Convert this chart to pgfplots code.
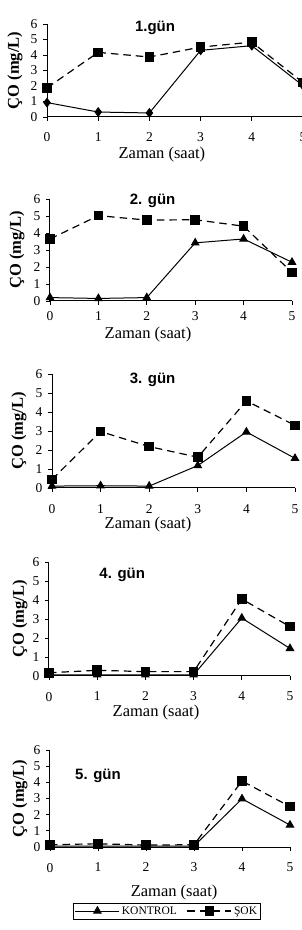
\documentclass[border=0pt]{standalone}
\usepackage{pgfplots}
\pgfplotsset{compat=1.18}
\usepackage{fontspec}
\setmainfont{Liberation Serif}
\newfontfamily\arial{Liberation Sans}

\pgfplotsset{
 panel/.style={
  scale only axis, anchor=south west, clip=false,
  xmin=0,xmax=5,ymin=0,ymax=6,
  axis lines*=left,
  axis line style={line width=1pt},
  xtick={0,...,5}, ytick={0,...,6},
  tick align=outside, major tick length=4pt,
  tick style={line width=0.9pt,black},
  /pgf/number format/assume math mode=true,
  ticklabel style={font=\fontsize{13.5}{15}\selectfont},
  xlabel={Zaman (saat)}, ylabel={\textbf{ÇO (mg/L)}},
  label style={font=\fontsize{16.5}{18}\selectfont},
  yticklabel style={xshift=-2pt},
 },
 kontrol/.style={black, line width=1pt, solid, mark=triangle*, mark size=4.2pt, mark options={solid}},
 kontrold/.style={black, line width=1pt, solid, mark=diamond*, mark size=4.2pt, mark options={solid}},
 sok/.style={black, line width=1.2pt, dash pattern=on 7.5pt off 5pt, mark=square*, mark size=4.2pt, mark options={solid}},
}
\tikzset{ttl/.style={font=\arial\bfseries\fontsize{15}{17}\selectfont}}

\begin{document}
\begin{tikzpicture}[x=1pt,y=1pt]
\useasboundingbox (0,0) rectangle (302,930);

% Panel 1
\begin{axis}[panel, at={(47pt,813pt)}, width=256pt, height=93pt,
  xticklabel style={yshift=-8pt},
  xlabel style={at={(axis description cs:0.449,0)}, anchor=center, yshift=-38pt},
  ylabel style={at={(axis description cs:0,0.5)}, anchor=center, yshift=32pt}]
\addplot[kontrold] coordinates {(0,0.93) (1,0.32) (2,0.26) (3,4.3) (4,4.6) (5,2.02)};
\addplot[sok] coordinates {(0,1.88) (1,4.17) (2,3.87) (3,4.51) (4,4.83) (5,2.22)};
\node[ttl] at (axis cs:2.11,5.74) {1.gün};
\end{axis}

% Panel 2
\begin{axis}[panel, at={(50pt,629pt)}, width=242pt, height=102pt,
  xticklabel style={yshift=-3pt},
  xlabel style={at={(axis description cs:0.405,0)}, anchor=center, yshift=-34pt},
  ylabel style={at={(axis description cs:0,0.5)}, anchor=center, yshift=33pt}]
\addplot[kontrol] coordinates {(0,0.2) (1,0.15) (2,0.2) (3,3.42) (4,3.65) (5,2.28)};
\addplot[sok] coordinates {(0,3.65) (1,5.02) (2,4.76) (3,4.78) (4,4.4) (5,1.68)};
\node[ttl] at (axis cs:2.12,5.88) {2. gün};
\end{axis}

% Panel 3
\begin{axis}[panel, at={(52pt,442pt)}, width=243pt, height=114pt,
  xticklabel style={yshift=-9pt},
  xlabel style={at={(axis description cs:0.395,0)}, anchor=center, yshift=-37pt},
  ylabel style={at={(axis description cs:0,0.5)}, anchor=center, yshift=33pt}]
\addplot[kontrol] coordinates {(0,0.1) (1,0.12) (2,0.1) (3,1.18) (4,2.95) (5,1.56)};
\addplot[sok] coordinates {(0,0.45) (1,2.97) (2,2.18) (3,1.62) (4,4.58) (5,3.3)};
\node[ttl] at (axis cs:2.07,5.71) {3. gün};
\end{axis}

% Panel 4
\begin{axis}[panel, at={(49pt,254pt)}, width=241pt, height=114pt,
  xticklabel style={yshift=-8.5pt},
  xlabel style={at={(axis description cs:0.444,0)}, anchor=center, yshift=-37pt},
  ylabel style={at={(axis description cs:0,0.5)}, anchor=center, yshift=29pt}]
\addplot[kontrol] coordinates {(0,0.06) (1,0.06) (2,0.06) (3,0.06) (4,3.05) (5,1.45)};
\addplot[sok] coordinates {(0,0.17) (1,0.3) (2,0.23) (3,0.23) (4,4.05) (5,2.6)};
\node[ttl] at (axis cs:1.52,5.34) {4. gün};
\end{axis}

% Panel 5
\begin{axis}[panel, at={(50pt,83pt)}, width=240pt, height=97pt,
  xticklabel style={yshift=-8.5pt},
  xlabel style={at={(axis description cs:0.517,0)}, anchor=center, yshift=-46pt},
  ylabel style={at={(axis description cs:0,0.5)}, anchor=center, yshift=30pt},
  legend style={at={(axis description cs:0.4875,-0.66)}, anchor=center,
    legend columns=2, draw=black, line width=0.8pt,
    font=\fontsize{11.5}{13}\selectfont, inner sep=1.5pt,
    /tikz/every even column/.append style={column sep=8pt}},
  legend cell align=left,
  legend image code/.code={\draw[#1,mark repeat=2,mark phase=2] plot coordinates {(0pt,0pt) (22pt,0pt) (44pt,0pt)};}]
\addplot[kontrol] coordinates {(0,0.06) (1,0.06) (2,0.06) (3,0.06) (4,2.98) (5,1.36)};
\addplot[sok] coordinates {(0,0.14) (1,0.2) (2,0.12) (3,0.14) (4,4.08) (5,2.5)};
\legend{KONTROL, ŞOK}
\node[ttl] at (axis cs:1.0,4.41) {5. gün};
\end{axis}
\end{tikzpicture}
\end{document}
